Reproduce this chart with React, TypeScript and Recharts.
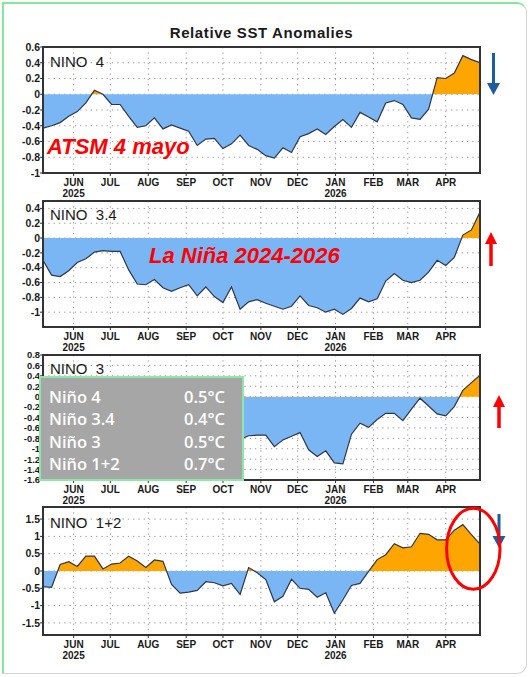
import React from 'react';
import { AreaChart, Area, XAxis, YAxis, CartesianGrid, ReferenceArea } from 'recharts';

// Weekly centre dates (Wednesdays)
const weekDates = [
  '2025-05-07', '2025-05-14', '2025-05-21', '2025-05-28',
  '2025-06-04', '2025-06-11', '2025-06-18', '2025-06-25',
  '2025-07-02', '2025-07-09', '2025-07-16', '2025-07-23', '2025-07-30',
  '2025-08-06', '2025-08-13', '2025-08-20', '2025-08-27',
  '2025-09-03', '2025-09-10', '2025-09-17', '2025-09-24',
  '2025-10-01', '2025-10-08', '2025-10-15', '2025-10-22', '2025-10-29',
  '2025-11-05', '2025-11-12', '2025-11-19', '2025-11-26',
  '2025-12-03', '2025-12-10', '2025-12-17', '2025-12-24', '2025-12-31',
  '2026-01-07', '2026-01-14', '2026-01-21', '2026-01-28',
  '2026-02-04', '2026-02-11', '2026-02-18', '2026-02-25',
  '2026-03-04', '2026-03-11', '2026-03-18', '2026-03-25',
  '2026-04-01', '2026-04-08', '2026-04-15', '2026-04-22', '2026-04-29',
];

const monthTickDates = [
  '2025-06-01', '2025-07-01', '2025-08-01', '2025-09-01', '2025-10-01', '2025-11-01',
  '2025-12-01', '2026-01-01', '2026-02-01', '2026-03-01', '2026-04-01',
];
const monthLabels = ['JUN', 'JUL', 'AUG', 'SEP', 'OCT', 'NOV', 'DEC', 'JAN', 'FEB', 'MAR', 'APR'];
const yearLabels = ['2025', '', '', '', '', '', '', '2026', '', '', ''];

const nino4Values = [
  -0.43, -0.40, -0.36, -0.28, -0.22, -0.11, 0.05, 0.00, -0.13, -0.13,
  -0.28, -0.42, -0.40, -0.30, -0.44, -0.39, -0.43, -0.47, -0.65, -0.57,
  -0.56, -0.69, -0.63, -0.52, -0.65, -0.70, -0.78, -0.81, -0.68, -0.74,
  -0.54, -0.50, -0.44, -0.51, -0.41, -0.32, -0.42, -0.23, -0.29, -0.35,
  -0.11, -0.08, -0.13, -0.30, -0.32, -0.19, 0.21, 0.20, 0.27, 0.49,
  0.44, 0.40,
];
const nino34Values = [
  -0.30, -0.50, -0.52, -0.44, -0.33, -0.28, -0.19, -0.17, -0.18, -0.18,
  -0.43, -0.62, -0.63, -0.56, -0.67, -0.72, -0.67, -0.63, -0.78, -0.66,
  -0.79, -0.87, -0.66, -0.96, -0.86, -0.83, -0.88, -0.92, -0.96, -0.92,
  -0.78, -0.91, -0.94, -1.00, -0.96, -1.03, -0.95, -0.81, -0.86, -0.82,
  -0.58, -0.48, -0.57, -0.60, -0.57, -0.46, -0.30, -0.37, -0.26, 0.04,
  0.11, 0.35,
];
const nino3Values = [
  -0.10, 0.02, 0.12, 0.20, 0.24, 0.15, 0.22, 0.10, 0.05, -0.05,
  -0.25, -0.38, -0.42, -0.33, -0.48, -0.55, -0.50, -0.52, -0.70, -0.62,
  -0.72, -0.85, -0.70, -0.82, -0.75, -0.74, -0.74, -0.96, -0.83, -0.76,
  -0.69, -1.02, -1.15, -1.04, -1.27, -1.29, -0.72, -0.51, -0.59, -0.44,
  -0.32, -0.32, -0.46, -0.24, -0.03, -0.18, -0.33, -0.37, -0.19, 0.12,
  0.27, 0.41,
];
const nino12Values = [
  -0.45, -0.47, 0.19, 0.27, 0.13, 0.43, 0.43, 0.06, 0.20, 0.23,
  0.43, 0.29, 0.10, 0.32, 0.28, -0.39, -0.64, -0.61, -0.56, -0.31,
  -0.34, -0.43, -0.36, -0.68, 0.10, -0.05, -0.25, -0.89, -0.73, -0.24,
  -0.50, -0.53, -0.76, -0.63, -1.22, -0.83, -0.42, -0.36, -0.01, 0.33,
  0.47, 0.79, 0.67, 0.70, 1.09, 1.06, 0.90, 0.90, 1.18, 1.34,
  1.05, 0.78,
];

const nino4Ticks = [0.6, 0.4, 0.2, 0, -0.2, -0.4, -0.6, -0.8, -1];
const nino34Ticks = [0.4, 0.2, 0, -0.2, -0.4, -0.6, -0.8, -1];
const nino3Ticks = [0.8, 0.6, 0.4, 0.2, 0, -0.2, -0.4, -0.6, -0.8, -1, -1.2, -1.4, -1.6];
const nino12Ticks = [1.5, 1, 0.5, 0, -0.5, -1, -1.5];

const boxRows = ['Niño 4', 'Niño 3.4', 'Niño 3', 'Niño 1+2'];
const boxValues = ['0.5°C', '0.4°C', '0.5°C', '0.7°C'];

const toTime = (s: string) => Date.parse(s + 'T00:00:00Z');
const weekTimes = weekDates.map(toTime);
const monthTimes = monthTickDates.map(toTime);
const xDomain = [weekTimes[0], weekTimes[weekTimes.length - 1]];

const FONT = '"Liberation Sans", Arial, sans-serif';
const POS = '#FFA500';
const NEG = '#7AB6F4';

const panels = [
  { key: 'n4', values: nino4Values, ticks: nino4Ticks, domain: [-1, 0.6], top: 47, plotH: 126, tickFont: 10.5 },
  { key: 'n34', values: nino34Values, ticks: nino34Ticks, domain: [-1.2, 0.5], top: 201, plotH: 126, tickFont: 10.5 },
  { key: 'n3', values: nino3Values, ticks: nino3Ticks, domain: [-1.6, 0.8], top: 355, plotH: 125, tickFont: 9.4 },
  { key: 'n12', values: nino12Values, ticks: nino12Ticks, domain: [-1.85, 1.85], top: 507, plotH: 128, tickFont: 10.5 },
];

const MT = 5;
const XH = 30;

const MonthTick = (props: any) => {
  const { x, y, payload } = props;
  const idx = monthTimes.indexOf(payload.value);
  return (
    <g>
      <text x={x} y={y + 10} textAnchor="middle" fontSize={10} fontWeight="bold" fill="#1a1a1a" fontFamily={FONT}>
        {monthLabels[idx]}
      </text>
      {yearLabels[idx] ? (
        <text x={x} y={y + 21} textAnchor="middle" fontSize={10} fontWeight="bold" fill="#1a1a1a" fontFamily={FONT}>
          {yearLabels[idx]}
        </text>
      ) : null}
    </g>
  );
};

const makeYTick = (fs: number) => (props: any) => {
  const { x, y, payload } = props;
  return (
    <text x={x} y={y + fs * 0.36} textAnchor="end" fontSize={fs} fontWeight="bold" fill="#1a1a1a" fontFamily={FONT}>
      {String(payload.value)}
    </text>
  );
};

const Panel = ({ p }: { p: any }) => {
  const data = p.values.map((v: number, i: number) => ({ t: weekTimes[i], v }));
  const [ymin, ymax] = p.domain;
  const off = ymax / (ymax - ymin);
  const height = MT + p.plotH + XH;
  return (
    <div style={{ position: 'absolute', left: 0, top: p.top - MT }}>
      <AreaChart width={531} height={height} data={data} margin={{ top: MT, right: 51, bottom: 0, left: 8 }}>
        <defs>
          <linearGradient id={'g-' + p.key} gradientUnits="userSpaceOnUse" x1="0" y1={MT} x2="0" y2={MT + p.plotH}>
            <stop offset={off} stopColor={POS} />
            <stop offset={off} stopColor={NEG} />
          </linearGradient>
        </defs>
        <CartesianGrid stroke="#999" strokeDasharray="1.3 4" />
        <XAxis
          dataKey="t"
          type="number"
          domain={xDomain}
          allowDataOverflow
          ticks={monthTimes}
          interval={0}
          tick={<MonthTick />}
          tickSize={3}
          tickMargin={0}
          tickLine={{ stroke: '#333' }}
          axisLine={false}
          height={XH}
        />
        <YAxis
          type="number"
          domain={p.domain}
          allowDataOverflow
          ticks={p.ticks}
          interval={0}
          tick={makeYTick(p.tickFont)}
          tickSize={3}
          tickMargin={0}
          tickLine={{ stroke: '#333' }}
          axisLine={false}
          width={35}
        />
        <Area
          type="linear"
          dataKey="v"
          baseValue={0}
          stroke="#2f3644"
          strokeWidth={1.2}
          fill={'url(#g-' + p.key + ')'}
          fillOpacity={1}
          dot={false}
          activeDot={false}
          isAnimationActive={false}
        />
        <ReferenceArea
          x1={xDomain[0]}
          x2={xDomain[1]}
          y1={ymin}
          y2={ymax}
          fill="none"
          stroke="#333"
          strokeWidth={2}
          ifOverflow="visible"
        />
      </AreaChart>
    </div>
  );
};

const DownArrow = ({ x, y1, y2, color }: any) => (
  <g>
    <line x1={x} y1={y1} x2={x} y2={y2 - 10} stroke={color} strokeWidth={3} />
    <polygon points={`${x - 6.5},${y2 - 12} ${x + 6.5},${y2 - 12} ${x},${y2}`} fill={color} />
  </g>
);
const UpArrow = ({ x, y1, y2, color }: any) => (
  <g>
    <line x1={x} y1={y1 + 10} x2={x} y2={y2} stroke={color} strokeWidth={3.5} />
    <polygon points={`${x - 6},${y1 + 12} ${x + 6},${y1 + 12} ${x},${y1}`} fill={color} />
  </g>
);

export default function App() {
  return (
    <div style={{ position: 'absolute', left: 0, top: 0, width: 531, height: 677, background: '#fff', overflow: 'hidden' }}>
      <div
        style={{
          position: 'absolute', left: 2, top: 2, width: 522, height: 669,
          borderTop: '2px solid #86e6a0', borderLeft: '2px solid #86e6a0',
          borderRight: '1.5px solid #d4d4d4', borderBottom: '1.5px solid #d4d4d4',
          borderTopRightRadius: 10, borderBottomRightRadius: 10,
        }}
      />
      {panels.map((p) => (
        <Panel key={p.key} p={p} />
      ))}
      <svg width={531} height={677} style={{ position: 'absolute', left: 0, top: 0, pointerEvents: 'none' }}>
        <text x={261.5} y={37.5} textAnchor="middle" fontSize={15} fontWeight={600} letterSpacing={0.6} fill="#1a1a1a" fontFamily={FONT}>
          Relative SST Anomalies
        </text>
        <text x={50} y={67} fontSize={15} fill="#1a1a1a" fontFamily={FONT} style={{ whiteSpace: 'pre' }}>{'NINO  4'}</text>
        <text x={50} y={219.5} fontSize={15} fill="#1a1a1a" fontFamily={FONT} style={{ whiteSpace: 'pre' }}>{'NINO  3.4'}</text>
        <text x={50} y={373.5} fontSize={15} fill="#1a1a1a" fontFamily={FONT} style={{ whiteSpace: 'pre' }}>{'NINO  3'}</text>
        <text x={50} y={527.5} fontSize={15} fill="#1a1a1a" fontFamily={FONT} style={{ whiteSpace: 'pre' }}>{'NINO  1+2'}</text>

        <text x={47} y={153.5} fontSize={22} fontWeight="bold" fontStyle="italic" fill="#ff0000" fontFamily={FONT}>ATSM 4 mayo</text>
        <text x={149} y={262.5} fontSize={22} fontWeight="bold" fontStyle="italic" fill="#ff0000" fontFamily={FONT}>La Niña 2024-2026</text>

        <rect x={40} y={377} width={203} height={103} fill="#a6a6a6" stroke="#8fe6a6" strokeWidth={2} />
        {boxRows.map((r, i) => (
          <g key={r}>
            <text x={49} y={402.5 + i * 22.6} fontSize={16.5} fontWeight={600} fill="#ffffff" fontFamily={'"Open Sans", sans-serif'}>{r}</text>
            <text x={184} y={402.5 + i * 22.6} fontSize={16.5} fontWeight={600} fill="#ffffff" fontFamily={'"Open Sans", sans-serif'}>{boxValues[i]}</text>
          </g>
        ))}

        <DownArrow x={493.5} y1={53} y2={95} color="#1f5c9e" />
        <UpArrow x={491} y1={232} y2={266} color="#ff0000" />
        <UpArrow x={499} y1={395} y2={428} color="#ff0000" />
        <DownArrow x={499} y1={514} y2={548} color="#1f5c9e" />
        <ellipse cx={473.3} cy={548.8} rx={26.7} ry={40.5} fill="none" stroke="#ff0000" strokeWidth={3} />
      </svg>
    </div>
  );
}
